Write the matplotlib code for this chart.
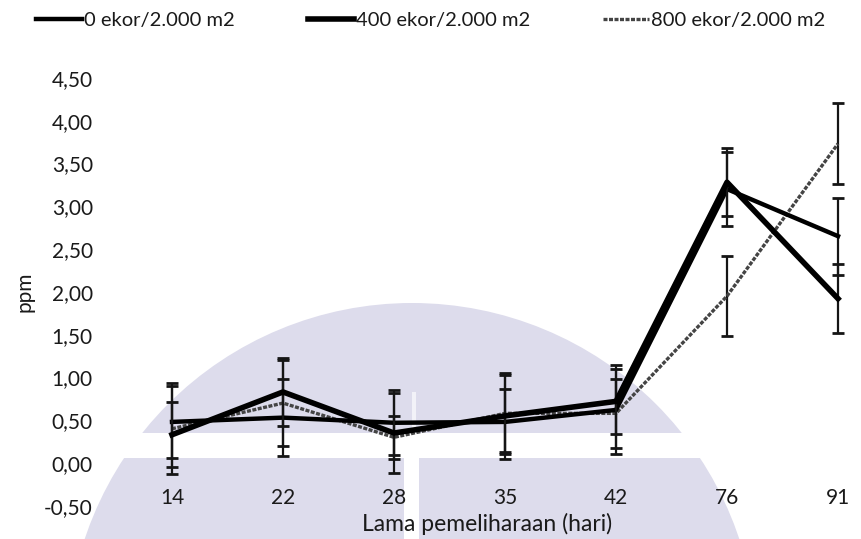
import matplotlib
matplotlib.use("Agg")
import matplotlib.pyplot as plt
from matplotlib.patches import Circle, Rectangle
from matplotlib.lines import Line2D
import numpy as np

# ---- data ----
days = ["14", "22", "28", "35", "42", "76", "91"]
series_names = ["0 ekor/2.000 m2", "400 ekor/2.000 m2", "800 ekor/2.000 m2"]
s0 = [0.48, 0.53, 0.47, 0.48, 0.62, 3.20, 2.65]
s0_err = [0.42, 0.45, 0.38, 0.38, 0.52, 0.43, 0.45]
s400 = [0.33, 0.83, 0.35, 0.55, 0.72, 3.28, 1.92]
s400_err = [0.38, 0.40, 0.47, 0.50, 0.38, 0.40, 0.40]
s800 = [0.40, 0.70, 0.30, 0.58, 0.58, 1.95, 3.73]
s800_err = [0.53, 0.50, 0.25, 0.45, 0.40, 0.47, 0.47]
y_ticks = [-0.5, 0.0, 0.5, 1.0, 1.5, 2.0, 2.5, 3.0, 3.5, 4.0, 4.5]
y_tick_labels = ["-0,50", "0,00", "0,50", "1,00", "1,50", "2,00", "2,50",
                 "3,00", "3,50", "4,00", "4,50"]

W, H = 862, 539
plt.rcParams['font.family'] = ['Lato', 'DejaVu Sans']
fig = plt.figure(figsize=(W / 100, H / 100), dpi=100)
fig.patch.set_facecolor("white")
TXT = "#1a1a1a"

# ---- background watermark (decoration) ----
bg = fig.add_axes([0, 0, 1, 1], zorder=0)
bg.set_xlim(0, W)
bg.set_ylim(H, 0)
bg.axis("off")
lav = "#dddcec"
bg.add_patch(Circle((412, 648), 345, facecolor=lav, edgecolor="none"))
bg.add_patch(Rectangle((0, 433), W, 25, facecolor="white", edgecolor="none"))
bg.add_patch(Rectangle((404, 458), 15, 90, facecolor="white", edgecolor="none"))
bg.add_patch(Rectangle((412, 392), 4, 41, facecolor="#f2f2f8", edgecolor="none"))

# ---- main axes ----
left_px, right_px = 116.5, 893.5
top_px, bot_px = 77.8, 505.8
ax = fig.add_axes([left_px / W, 1 - bot_px / H, (right_px - left_px) / W,
                   (bot_px - top_px) / H], zorder=1)
ax.patch.set_alpha(0)
x = np.arange(len(days))

style800 = dict(color="#444444", lw=2.4, linestyle=(0, (1.2, 0.45)))
style0 = dict(color="black", lw=3.2)
style400 = dict(color="black", lw=4.0)
ebar = dict(ecolor="#151515", elinewidth=1.6, capsize=4.5, capthick=2)

ax.errorbar(x, s800, yerr=s800_err, zorder=3, **style800, **ebar)
ax.errorbar(x, s0, yerr=s0_err, zorder=4, **style0, **ebar)
ax.errorbar(x, s400, yerr=s400_err, zorder=5, **style400, **ebar)

ax.set_xlim(-0.5, len(days) - 0.5)
ax.set_ylim(-0.5, 4.5)
ax.set_yticks(y_ticks)
ax.set_yticklabels(y_tick_labels)
ax.set_xticks(x)
ax.set_xticklabels(days)
for s in ax.spines.values():
    s.set_visible(False)
ax.tick_params(axis="y", length=0, pad=17, labelsize=15, labelcolor=TXT)
ax.tick_params(axis="x", length=0, pad=-13, labelsize=15, labelcolor=TXT)
ax.set_ylabel("ppm", fontsize=15, color=TXT)
ax.yaxis.set_label_coords(-(left_px - 34) / (right_px - left_px), 0.5)
ax.set_xlabel("Lama pemeliharaan (hari)", fontsize=16.5, color=TXT)
ax.xaxis.set_label_coords((487 - left_px) / (right_px - left_px),
                          -(513 - bot_px) / (bot_px - top_px))

handles = [Line2D([], [], **style0), Line2D([], [], **style400),
           Line2D([], [], **style800)]
fig.legend(handles, series_names, loc="upper left",
           bbox_to_anchor=(36 / W, 1 - 12 / H), ncol=3,
           frameon=False, fontsize=14.5, handlelength=2.3, handletextpad=0.1,
           columnspacing=3.6, labelcolor=TXT, borderaxespad=0, borderpad=0)
fig.savefig("out.png", dpi=100)
